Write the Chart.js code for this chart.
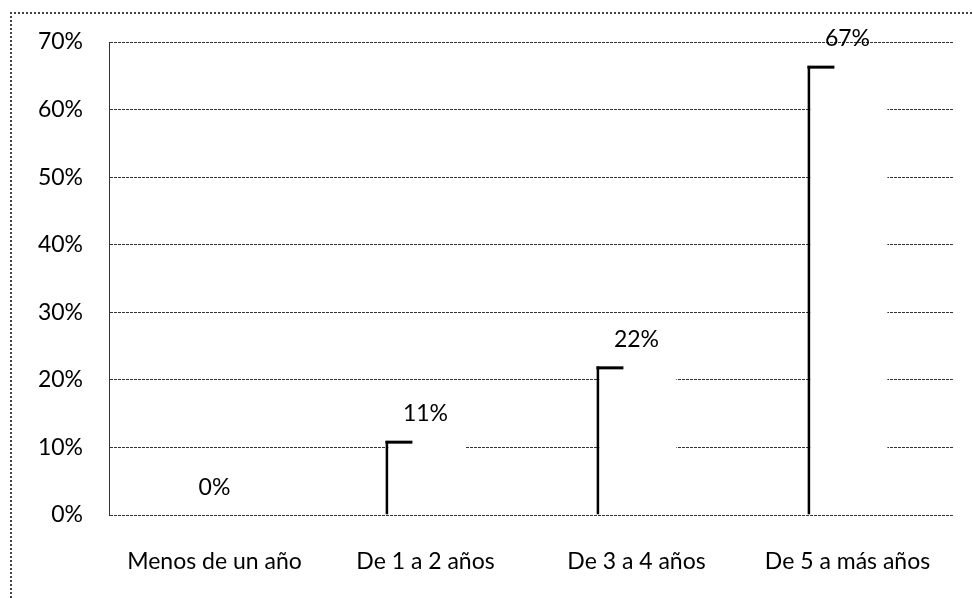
<!DOCTYPE html>
<html>
<head>
<meta charset="utf-8">
<script src="https://cdn.jsdelivr.net/npm/chart.js@4"></script>
<style>
  html, body { margin: 0; padding: 0; background: #fff; }
  #wrap { position: relative; width: 972px; height: 598px; }
  #frame { position: absolute; left: 10px; top: 12px; right: 0; bottom: 0;
           border-left: 2px dotted #444; border-top: 2px dotted #444; pointer-events: none; }
  canvas { position: absolute; left: 0; top: 0; }
</style>
</head>
<body>
<div id="wrap">
  <canvas id="c" width="972" height="598"></canvas>
  <div id="frame"></div>
</div>
<script>
const categories = ['Menos de un año', 'De 1 a 2 años', 'De 3 a 4 años', 'De 5 a más años'];
const values = [0, 11, 22, 66.5];
const valueLabels = ['0%', '11%', '22%', '67%'];
const yTicks = [0, 10, 20, 30, 40, 50, 60, 70];

const FONT = 'Lato, "Open Sans", sans-serif';
const FSIZE = 23;

const barDecor = {
  id: 'barDecor',
  afterDatasetsDraw(chart) {
    const ctx = chart.ctx;
    const meta = chart.getDatasetMeta(0);
    ctx.save();
    meta.data.forEach((bar, i) => {
      const left = bar.x - bar.width / 2;
      if (values[i] > 0) {
        ctx.fillStyle = '#000';
        ctx.fillRect(left, bar.y, 27, 3);
      }
      ctx.font = FSIZE + 'px ' + FONT;
      ctx.fillStyle = '#000';
      ctx.textAlign = 'center';
      ctx.textBaseline = 'middle';
      ctx.fillText(valueLabels[i], bar.x, bar.y - 27);
    });
    ctx.restore();
  }
};

new Chart(document.getElementById('c'), {
  type: 'bar',
  data: {
    labels: categories,
    datasets: [{
      data: values,
      backgroundColor: '#ffffff',
      borderColor: '#000000',
      borderWidth: { left: 3, top: 0, right: 0, bottom: 0 },
      borderSkipped: false,
      barPercentage: 0.76,
      categoryPercentage: 0.5
    }]
  },
  options: {
    responsive: false,
    animation: false,
    events: [],
    layout: { padding: { left: 0, right: 19, top: 42, bottom: 0 } },
    plugins: { legend: { display: false }, tooltip: { enabled: false } },
    scales: {
      x: {
        grid: { display: false, drawTicks: false },
        border: { display: false },
        ticks: { color: '#000', font: { family: FONT, size: FSIZE }, padding: 33, maxRotation: 0 },
        afterFit(s) { s.height = 598 - 515; }
      },
      y: {
        min: 0, max: 70,
        afterBuildTicks(s) { s.ticks = yTicks.map(v => ({ value: v })); },
        grid: { color: '#333', lineWidth: 1, drawTicks: false },
        border: { display: true, color: '#333', width: 1, dash: [3, 1] },
        ticks: { color: '#000', font: { family: FONT, size: FSIZE }, padding: 26,
                 callback: v => v + '%' },
        afterFit(s) { s.width = 109; }
      }
    }
  },
  plugins: [barDecor]
});
</script>
</body>
</html>
